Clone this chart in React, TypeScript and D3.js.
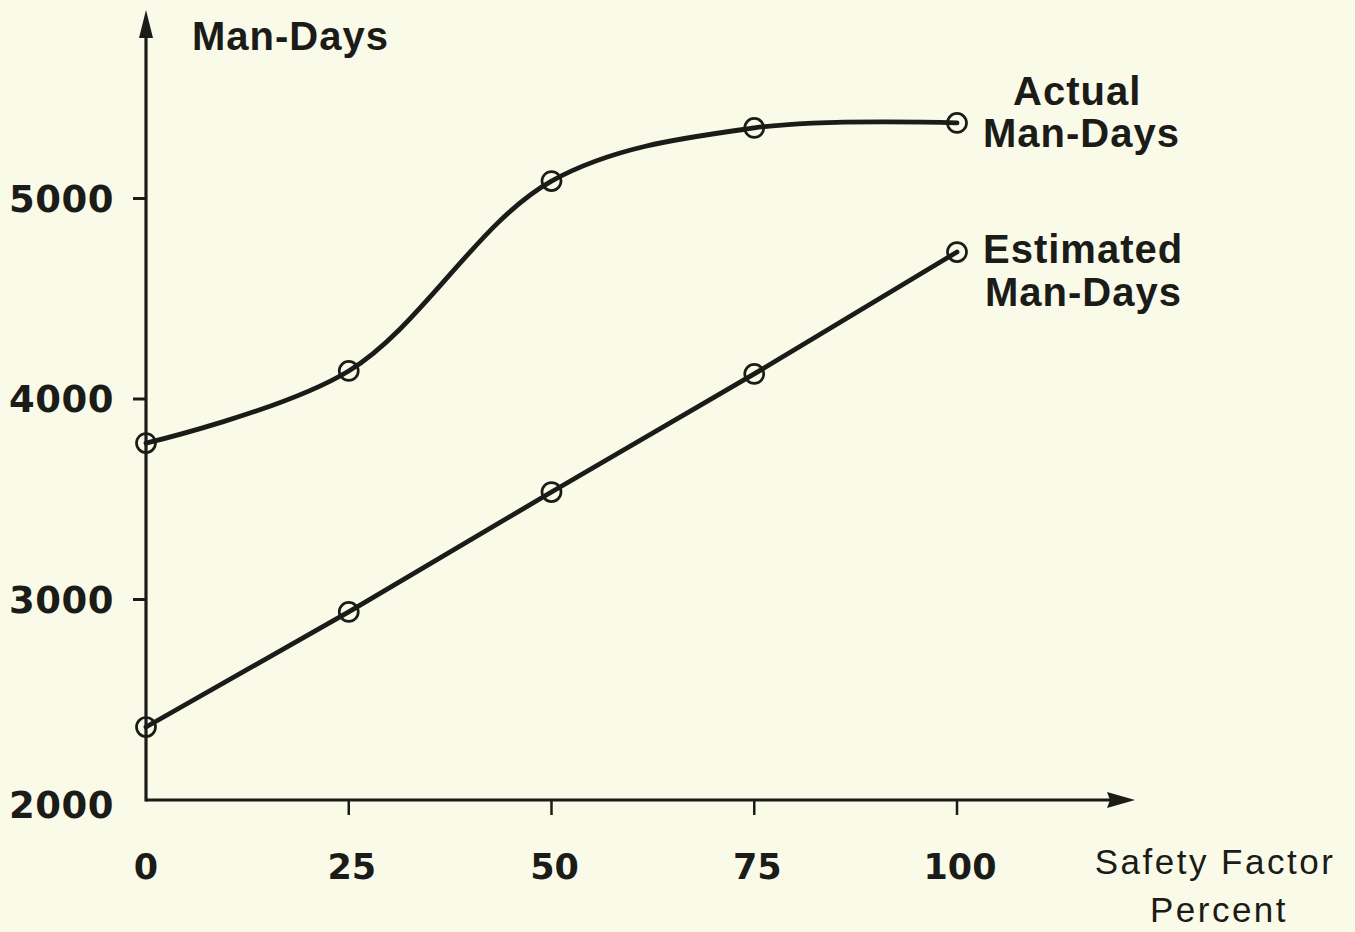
import React, { useEffect, useRef } from "react";
import * as d3 from "d3";

const safetyFactor = [0, 25, 50, 75, 100];
const actualManDays = [3780, 4140, 5087, 5352, 5377];
const estimatedManDays = [2364, 2938, 3536, 4125, 4733];
const xTicks = [0, 25, 50, 75, 100];
const yTicks = [2000, 3000, 4000, 5000];

const W = 1355;
const H = 932;
const BG = "#f9fae8";
const INK = "#1b1b18";

export default function App() {
  const ref = useRef<SVGSVGElement | null>(null);

  useEffect(() => {
    const svg = d3.select(ref.current);
    svg.selectAll("*").remove();

    const x = d3.scaleLinear().domain([0, 100]).range([146, 957]);
    const y = d3.scaleLinear().domain([2000, 5000]).range([800, 198.5]);

    svg.append("rect").attr("width", W).attr("height", H).attr("fill", BG);

    const g = svg.append("g");

    // axes
    const x0 = x(0);
    const y0 = y(2000);
    g.append("line")
      .attr("x1", x0).attr("y1", y0 + 1.5).attr("x2", x0).attr("y2", 30)
      .attr("stroke", INK).attr("stroke-width", 3.2);
    g.append("path")
      .attr("d", `M${x0},10 L${x0 - 7},38 L${x0 + 7},38 Z`)
      .attr("fill", INK);
    g.append("line")
      .attr("x1", x0).attr("y1", y0).attr("x2", 1112).attr("y2", y0)
      .attr("stroke", INK).attr("stroke-width", 3.2);
    g.append("path")
      .attr("d", `M1135,${y0} L1107,${y0 - 8} L1110,${y0} L1107,${y0 + 8} Z`)
      .attr("fill", INK);

    // y ticks
    yTicks.filter((t) => t !== 2000).forEach((t) => {
      g.append("line")
        .attr("x1", x0 - 13).attr("x2", x0).attr("y1", y(t)).attr("y2", y(t))
        .attr("stroke", INK).attr("stroke-width", 3);
    });
    yTicks.forEach((t) => {
      g.append("text")
        .attr("x", 114)
        .attr("y", y(t) + (t === 2000 ? 18 : 13))
        .attr("text-anchor", "end")
        .attr("font-family", "DejaVu Sans")
        .attr("font-weight", "bold")
        .attr("font-size", 37)
        .attr("letter-spacing", 0.5)
        .attr("fill", INK)
        .text(String(t));
    });

    // x ticks
    xTicks.filter((t) => t !== 0).forEach((t) => {
      g.append("line")
        .attr("x1", x(t)).attr("x2", x(t)).attr("y1", y0).attr("y2", y0 + 15)
        .attr("stroke", INK).attr("stroke-width", 2.5);
    });
    xTicks.forEach((t) => {
      g.append("text")
        .attr("x", x(t) + (t === 0 ? 0 : 3))
        .attr("y", 879)
        .attr("text-anchor", "middle")
        .attr("font-family", "DejaVu Sans")
        .attr("font-weight", "bold")
        .attr("font-size", 35)
        .attr("fill", INK)
        .text(String(t));
    });

    // axis titles
    const boldLabel = (txt: string, cx: number, by: number, anchor = "start") =>
      g.append("text")
        .attr("x", cx).attr("y", by)
        .attr("text-anchor", anchor)
        .attr("font-family", "Liberation Sans, Arial, sans-serif")
        .attr("font-weight", "bold")
        .attr("font-size", 40)
        .attr("letter-spacing", 1)
        .attr("fill", INK)
        .text(txt);

    boldLabel("Man-Days", 192, 50);
    boldLabel("Actual", 1013, 105);
    boldLabel("Man-Days", 983, 147);
    boldLabel("Estimated", 983, 263);
    boldLabel("Man-Days", 985, 306);

    const regLabel = (txt: string, cx: number, by: number) =>
      g.append("text")
        .attr("x", cx).attr("y", by)
        .attr("text-anchor", "middle")
        .attr("font-family", "Liberation Sans, Arial, sans-serif")
        .attr("font-size", 35)
        .attr("letter-spacing", 2.5)
        .attr("fill", INK)
        .text(txt);
    regLabel("Safety Factor", 1215, 874);
    regLabel("Percent", 1219, 922);

    // lines
    const actualPts = safetyFactor.map((s, i) => [x(s), y(actualManDays[i])] as [number, number]);
    const estPts = safetyFactor.map((s, i) => [x(s), y(estimatedManDays[i])] as [number, number]);

    g.append("path")
      .attr("d", d3.line().curve(d3.curveCatmullRom.alpha(0.5))(actualPts) as string)
      .attr("fill", "none").attr("stroke", INK).attr("stroke-width", 4.8)
      .attr("stroke-linecap", "round");
    g.append("path")
      .attr("d", d3.line()(estPts) as string)
      .attr("fill", "none").attr("stroke", INK).attr("stroke-width", 4.8)
      .attr("stroke-linecap", "round");

    [...actualPts, ...estPts].forEach(([px, py]) => {
      g.append("circle")
        .attr("cx", px).attr("cy", py).attr("r", 9.5)
        .attr("fill", "none").attr("stroke", INK).attr("stroke-width", 2.7);
      g.append("circle")
        .attr("cx", px).attr("cy", py).attr("r", 1.8).attr("fill", INK);
    });
  }, []);

  return (
    <svg
      ref={ref}
      width={W}
      height={H}
      style={{ position: "absolute", left: 0, top: 0, display: "block" }}
    />
  );
}
